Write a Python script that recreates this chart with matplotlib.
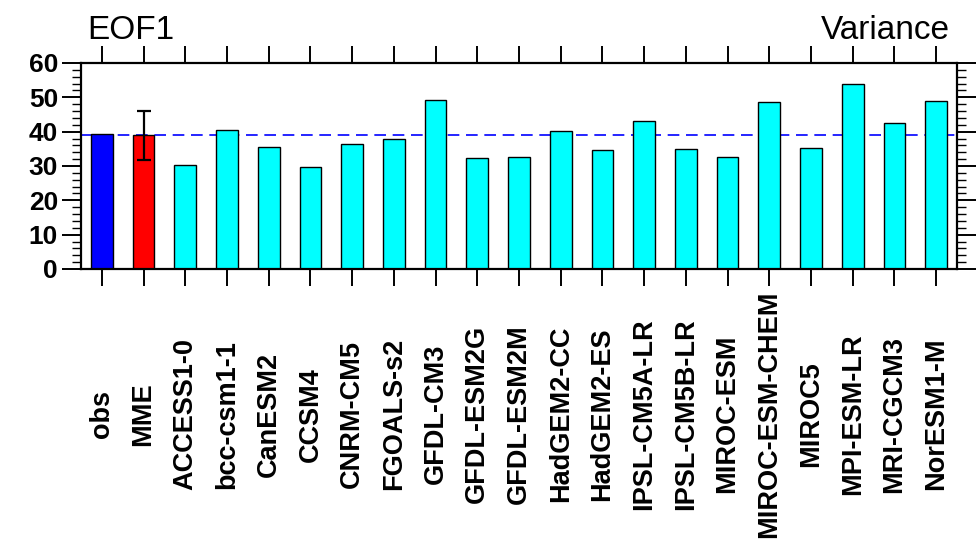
import matplotlib
matplotlib.use("Agg")
import matplotlib.pyplot as plt
from matplotlib.ticker import MultipleLocator

# EOF1 explained variance (%) for obs, multi-model ensemble and CMIP5 models
models = [
    "obs", "MME", "ACCESS1-0", "bcc-csm1-1", "CanESM2", "CCSM4", "CNRM-CM5",
    "FGOALS-s2", "GFDL-CM3", "GFDL-ESM2G", "GFDL-ESM2M", "HadGEM2-CC",
    "HadGEM2-ES", "IPSL-CM5A-LR", "IPSL-CM5B-LR", "MIROC-ESM",
    "MIROC-ESM-CHEM", "MIROC5", "MPI-ESM-LR", "MRI-CGCM3", "NorESM1-M",
]
variance = [
    39.2, 38.9, 30.3, 40.6, 35.5, 29.8, 36.4,
    37.8, 49.2, 32.3, 32.5, 40.3,
    34.6, 43.2, 35.0, 32.6,
    48.6, 35.3, 53.9, 42.4, 48.9,
]
mme_low = 31.7
mme_high = 46.0
obs_value = 39.1

plt.rcParams.update(
    {
        "font.family": ["Liberation Sans", "DejaVu Sans"],
        "axes.linewidth": 1.6,
    }
)

fig = plt.figure(figsize=(9.77, 5.42), dpi=100)
ax = fig.add_axes([0.0829, 0.5037, 0.8966, 0.3801])

x = list(range(len(models)))
colors = ["#0000ff", "#ff0000"] + ["#00ffff"] * (len(models) - 2)
ax.bar(x, variance, width=0.52, color=colors, edgecolor="black", linewidth=1.0, zorder=2)

# MME spread
mme_mid = variance[1]
ax.errorbar(
    [1], [mme_mid],
    yerr=[[mme_mid - mme_low], [mme_high - mme_mid]],
    fmt="none", ecolor="black", elinewidth=1.6, capsize=5, capthick=1.6, zorder=3,
)

# obs reference line
ax.axhline(obs_value, color="#0000ff", linestyle=(0, (7, 4)), linewidth=1.2, zorder=1)

ax.set_xlim(-0.5, len(models) - 0.5)
ax.set_ylim(0, 60)

ax.yaxis.set_major_locator(MultipleLocator(10))
ax.yaxis.set_minor_locator(MultipleLocator(2))
ax.set_xticks(x)
ax.set_xticklabels(models, rotation=90, va="center", ha="center",
                   fontsize=19.5, fontweight="bold")

ax.tick_params(axis="x", which="major", direction="out", length=12.5, width=1.4,
               top=True, bottom=True, pad=92)
ax.tick_params(axis="y", which="major", direction="out", length=13.5, width=1.4,
               left=True, right=True, labelsize=19, pad=3)
ax.tick_params(axis="y", which="minor", direction="out", length=6.5, width=1.0,
               left=True, right=True)
for lab in ax.get_yticklabels():
    lab.set_fontweight("bold")

fig.text(0.089, 0.915, "EOF1", fontsize=24, ha="left", va="bottom")
fig.text(0.972, 0.915, "Variance", fontsize=24, ha="right", va="bottom")

fig.savefig("out.png", dpi=100)
